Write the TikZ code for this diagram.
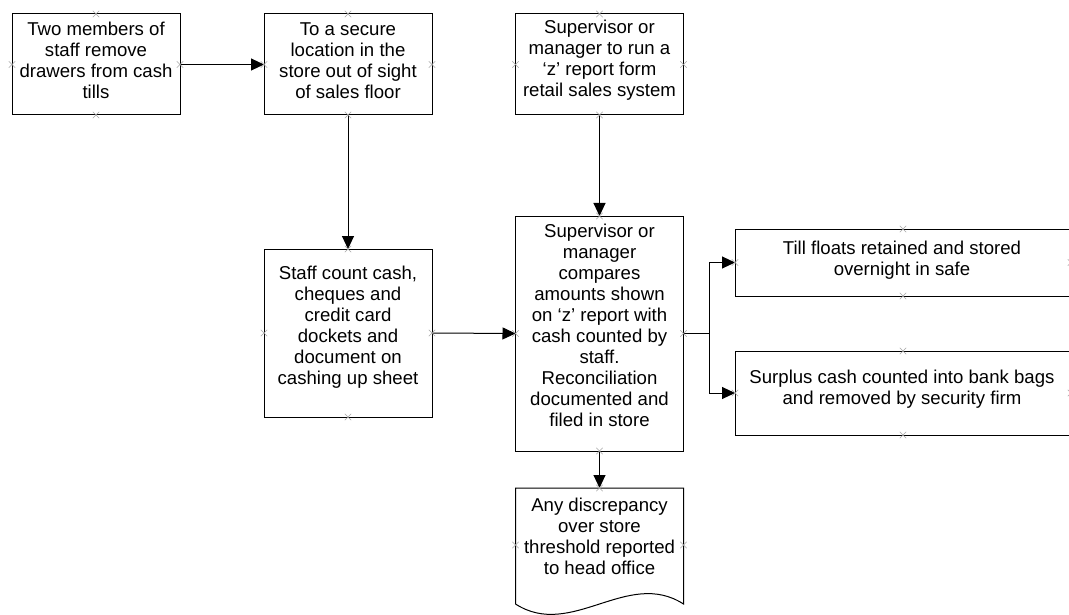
\documentclass[tikz,border=0pt]{standalone}
\usepackage{fontspec}
\setmainfont{Liberation Sans}
\usetikzlibrary{arrows.meta,calc}
\begin{document}
\begin{tikzpicture}[x=1pt,y=-1pt,
  box/.style={draw=black,line width=1pt,rectangle,inner sep=0pt,outer sep=0pt},
  txt/.style={inner sep=0pt,outer sep=0pt,align=center,font=\fontsize{18.6}{21}\selectfont},
  arr/.style={draw=black,line width=1pt,-{Triangle[length=13pt,width=12pt]}},
  xm/.pic={\draw[gray!70,line width=0.6pt] (-3.2pt,-3.2pt)--(3.2pt,3.2pt) (-3.2pt,3.2pt)--(3.2pt,-3.2pt);}]
\useasboundingbox (0,0) rectangle (1069,615);
\clip (0,0) rectangle (1069,615);
\fill[white] (0,0) rectangle (1069,615);

% shapes
\node[box,minimum width=168pt,minimum height=101pt] (A) at (96,64.5) {};
\node[box,minimum width=168pt,minimum height=101pt] (B) at (348,64.5) {};
\node[box,minimum width=168pt,minimum height=101pt] (C) at (599.5,64.5) {};
\node[box,minimum width=168pt,minimum height=168pt] (D) at (348,333) {};
\node[box,minimum width=168pt,minimum height=235pt] (E) at (599.5,333.5) {};
\node[box,draw=none,minimum width=168pt,minimum height=116pt] (F) at (599.5,546) {};
\draw[black,line width=1pt] (F.south west) -- (F.north west) -- (F.north east) -- (F.south east)
  .. controls ($(F.south east)+(-56,-36)$) and ($(F.south west)+(56,36)$) .. (F.south west);
\node[box,minimum width=336pt,minimum height=67pt] (G) at (903,262.5) {};
\node[box,minimum width=336pt,minimum height=84pt] (H) at (903,393) {};

% texts
\node[txt] (At) at (96,60.5) {Two members of\\staff remove\\drawers from cash\\tills};
\node[txt] (Bt) at (348,61) {To a secure\\location in the\\store out of sight\\of sales floor};
\node[txt] (Ct) at (599.5,60.5) {Supervisor or\\manager to run a\\‘z’ report form\\retail sales system};
\node[txt] (Dt) at (348,327.5) {Staff count cash,\\cheques and\\credit card\\dockets and\\document on\\cashing up sheet};
\node[txt] (Et) at (599.5,325.5) {Supervisor or\\manager\\compares\\amounts shown\\on ‘z’ report with\\cash counted by\\staff.\\Reconciliation\\documented and\\filed in store};
\node[txt] (Ft) at (599.5,536) {Any discrepancy\\over store\\threshold reported\\to head office};
\node[txt] (Gt) at (902,260) {Till floats retained and stored\\overnight in safe};
\node[txt] (Ht) at (902,389) {Surplus cash counted into bank bags\\and removed by security firm};

% connectors
\draw[arr] (A.east) -- (B.west);
\draw[arr] (B.south) -- (D.north);
\draw[arr] (C.south) -- (E.north);
\draw[arr] (D.east) -- (E.west);
\draw[arr] (E.south) -- (F.north);
\draw[arr] (E.east) -- ++(26,0) |- (G.west);
\draw[arr] (E.east) -- ++(26,0) |- (H.west);

% connection markers
\foreach \n in {A,B,C,D,E,G,H}{
  \pic at (\n.north) {xm}; \pic at (\n.south) {xm};
  \pic at (\n.west) {xm}; \pic at (\n.east) {xm};
}
\pic at (F.north) {xm};
\pic at ($(F.west)+(0,-1)$) {xm};
\pic at ($(F.east)+(0,-1)$) {xm};
\end{tikzpicture}
\end{document}
